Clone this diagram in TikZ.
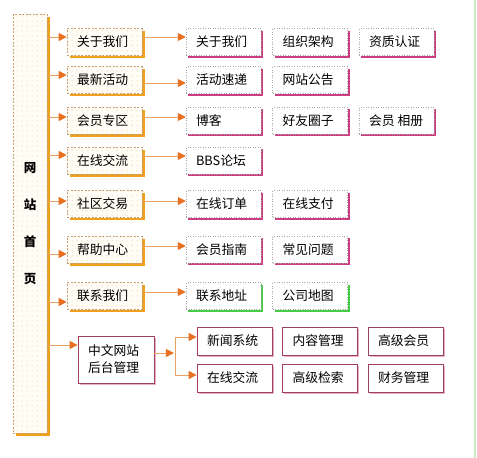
\documentclass[tikz,border=0pt]{standalone}
\usepackage{fontspec}
\setmainfont{Noto Sans CJK SC}
\usetikzlibrary{arrows.meta,shadows,patterns.meta,calc}
\definecolor{lineor}{HTML}{E8A060}
\definecolor{tipor}{HTML}{E87020}
\definecolor{shor}{HTML}{F0A020}
\definecolor{dashc}{HTML}{C8A070}
\definecolor{cream}{HTML}{FFFDF6}
\definecolor{dotc}{HTML}{DCC8A0}
\definecolor{pinksh}{HTML}{CC3C80}
\definecolor{greensh}{HTML}{44CC44}
\definecolor{maroonc}{HTML}{A04060}
\definecolor{lpink}{HTML}{E8B0C8}
\definecolor{edgegreen}{HTML}{C8E8C8}
\tikzdeclarepattern{
  name=sdots,
  type=uncolored,
  bottom left={(0pt,0pt)},
  top right={(5pt,5pt)},
  tile size={(5pt,5pt)},
  code={\pgfpathcircle{\pgfqpoint{2.5pt}{2.5pt}}{0.6pt}\pgfusepath{fill}}
}
\tikzset{
  txt/.style={font=\fontsize{12.8}{15}\selectfont},
  mainbox/.style={rectangle, minimum width=34pt, minimum height=419pt, align=center,
    draw=dashc, dash pattern=on 2pt off 1.5pt, line width=0.6pt,
    copy shadow={shadow xshift=3pt, shadow yshift=-3pt, fill=shor, draw=none},
    preaction={fill=cream}, pattern=sdots, pattern color=dotc,
    font=\fontsize{12.5}{37}\selectfont\bfseries},
  lvone/.style={rectangle, minimum width=75pt, minimum height=27pt, inner xsep=10pt,
    text width=55pt, align=left, draw=dashc, dash pattern=on 2pt off 1.5pt, line width=0.6pt,
    copy shadow={shadow xshift=2.5pt, shadow yshift=-2.5pt, fill=shor, draw=none},
    preaction={fill=cream}, pattern=sdots, pattern color=dotc, txt},
  lvtwo/.style={rectangle, minimum width=75pt, minimum height=27pt, inner xsep=10pt,
    text width=55pt, align=left, draw=gray!70, dotted, line width=0.5pt, fill=white,
    copy shadow={shadow xshift=2pt, shadow yshift=-2pt, fill=#1, draw=none}, txt},
  lvtwo/.default=pinksh,
  admbox/.style={rectangle, minimum width=75pt, minimum height=28pt, inner xsep=10pt,
    text width=55pt, align=left, draw=maroonc, line width=0.8pt, fill=white,
    copy shadow={shadow xshift=1.5pt, shadow yshift=-1.5pt, fill=lpink, draw=none}, txt},
  arr/.style={draw=lineor, line width=1pt, -{Triangle[length=8pt,width=8pt,color=tipor]}},
  ln/.style={draw=lineor, line width=1pt}
}
\begin{document}
\begin{tikzpicture}[x=1pt,y=-1pt]
\useasboundingbox (0,0) rectangle (477,458);
\fill[white] (0,0) rectangle (477,458);
\draw[edgegreen, line width=2pt] (475,0) -- (475,458);

% main box
\node[mainbox] (main) at (30,223.5) {网\\站\\首\\页};

% level one
\node[lvone] (a1) at (104.5,42) {关于我们};
\node[lvone] (a2) at (104.5,80) {最新活动};
\node[lvone] (a3) at (104.5,120.5) {会员专区};
\node[lvone] (a4) at (104.5,160.5) {在线交流};
\node[lvone] (a5) at (104.5,204) {社区交易};
\node[lvone] (a6) at (104.5,249.5) {帮助中心};
\node[lvone] (a7) at (104.5,296) {联系我们};
\node[rectangle, minimum width=76pt, minimum height=47pt, inner xsep=10pt, text width=56pt,
  align=left, draw=maroonc, line width=0.8pt, fill=white,
  copy shadow={shadow xshift=1.5pt, shadow yshift=-1.5pt, fill=lpink, draw=none},
  font=\fontsize{12.8}{17}\selectfont] (adm) at (116,359.5) {中文网站\\后台管理};

% level two
\node[lvtwo] (b11) at (223.5,42) {关于我们};
\node[lvtwo] (b12) at (310,42) {组织架构};
\node[lvtwo] (b13) at (396.5,42) {资质认证};
\node[lvtwo] (b21) at (223.5,80) {活动速递};
\node[lvtwo] (b22) at (310,80) {网站公告};
\node[lvtwo] (b31) at (223.5,120.5) {博客};
\node[lvtwo] (b32) at (310,120.5) {好友圈子};
\node[lvtwo] (b33) at (396.5,120.5) {会员\hspace{3pt}相册};
\node[lvtwo] (b41) at (223.5,160.5) {BBS论坛};
\node[lvtwo] (b51) at (223.5,204) {在线订单};
\node[lvtwo] (b52) at (310,204) {在线支付};
\node[lvtwo] (b61) at (223.5,249.5) {会员指南};
\node[lvtwo] (b62) at (310,249.5) {常见问题};
\node[lvtwo=greensh] (b71) at (223.5,296) {联系地址};
\node[lvtwo=greensh] (b72) at (310,296) {公司地图};

% admin level two
\node[admbox] (c1) at (234.5,341) {新闻系统};
\node[admbox] (c2) at (320,341) {内容管理};
\node[admbox] (c3) at (405.5,341) {高级会员};
\node[admbox] (c4) at (234.5,378) {在线交流};
\node[admbox] (c5) at (320,378) {高级检索};
\node[admbox] (c6) at (405.5,378) {财务管理};

% trunk -> level one
\coordinate (t1) at ([yshift=5pt]a1.west);
\coordinate (t2) at ([yshift=5pt]a2.west);
\coordinate (t3) at ([yshift=3.5pt]a3.west);
\coordinate (t4) at ([yshift=5.5pt]a4.west);
\coordinate (t5) at ([yshift=3pt]a5.west);
\coordinate (t6) at ([yshift=-4.5pt]a6.west);
\coordinate (t7) at ([yshift=-6pt]a7.west);
\coordinate (t8) at ([yshift=14.5pt]adm.west);
\foreach \i in {1,...,8}{\draw[arr] (t\i -| main.east) -- (t\i);}

% level one -> level two
\coordinate (u1) at ([yshift=5pt]a1.east);
\coordinate (u2) at ([yshift=-3pt]a2.east);
\coordinate (u3) at ([yshift=3.5pt]a3.east);
\coordinate (u4) at ([yshift=4.5pt]a4.east);
\coordinate (u5) at ([yshift=3pt]a5.east);
\coordinate (u6) at ([yshift=3.5pt]a6.east);
\coordinate (u7) at ([yshift=4pt]a7.east);
\draw[arr] (u1) -- (u1 -| b11.west);
\draw[arr] (u2) -- (u2 -| b21.west);
\draw[arr] (u3) -- (u3 -| b31.west);
\draw[arr] (u4) -- (u4 -| b41.west);
\draw[arr] (u5) -- (u5 -| b51.west);
\draw[arr] (u6) -- (u6 -| b61.west);
\draw[arr] (u7) -- (u7 -| b71.west);

% admin fork
\coordinate (w) at ([yshift=6.5pt]adm.east);
\coordinate (jx) at ([xshift=21pt]adm.east);
\coordinate (v1) at ([yshift=4pt]c1.west);
\coordinate (v2) at ([yshift=3pt]c4.west);
\draw[arr] (w) -- ([xshift=-1.5pt]w -| jx);
\draw[ln] (v1 -| jx) -- (v2 -| jx);
\draw[arr] (v1 -| jx) -- (v1);
\draw[arr] (v2 -| jx) -- (v2);
\end{tikzpicture}
\end{document}
